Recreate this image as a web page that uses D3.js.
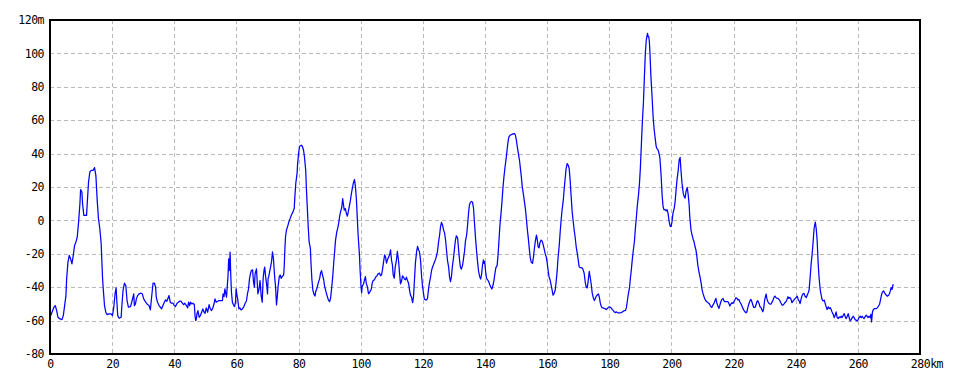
<!DOCTYPE html>
<html>
<head>
<meta charset="utf-8">
<script src="https://cdn.jsdelivr.net/npm/d3@7"></script>
<style>
  html, body { margin: 0; padding: 0; background: #ffffff; }
  svg { display: block; }
  .lbl { font-family: "DejaVu Sans Mono", "Liberation Mono", monospace; font-size: 11.5px; fill: #000; letter-spacing: -0.5px; }
</style>
</head>
<body>
<svg id="chart" width="960" height="384"></svg>
<script>
// ---- data ----
const xTickValues = [0, 20, 40, 60, 80, 100, 120, 140, 160, 180, 200, 220, 240, 260, 280];
const yTickValues = [-80, -60, -40, -20, 0, 20, 40, 60, 80, 100, 120];
const xUnit = "km";
const yUnit = "m";

// elevation profile: [distance km, elevation m]
const profile = [
[0,-58],[0.43,-56],[0.86,-54],[1.28,-52],[1.71,-51],[2.14,-54],[2.57,-58],[3.21,-59],[3.85,-59.4],[4.28,-57],[4.71,-51],[5.13,-45],[5.35,-35],[5.78,-25],[6.2,-21],[6.63,-23],[7.06,-26],[7.49,-21],[7.91,-15],[8.34,-13],[8.77,-10],[9.2,-1],[9.63,10],[9.84,18.4],[10.27,17],[10.48,10],[10.9,3],[11.76,3],[11.98,10],[12.4,23],[12.83,29],[13.26,30],[13.9,30],[14.33,31.6],[14.76,27],[15.19,12],[15.6,1],[16.04,-5],[16.47,-14],[16.9,-34],[17.1,-40],[17.54,-51],[17.97,-55],[18.4,-56.4],[19.04,-56],[19.68,-56],[20.1,-57],[20.53,-52],[20.96,-43.6],[21.28,-40.4],[21.5,-48],[21.8,-57],[22.25,-58.6],[22.9,-58],[23.1,-52],[23.5,-42],[23.96,-37.6],[24.4,-39],[24.8,-48],[25.24,-52],[25.9,-51.6],[26.3,-49],[26.7,-46],[26.95,-44],[27.16,-51],[27.5,-50],[27.8,-47],[28.2,-45],[28.66,-44],[29.3,-43.6],[29.7,-44],[30.16,-47],[30.8,-49],[31.4,-50.4],[31.87,-51],[32.3,-53.6],[32.7,-46],[33.16,-37.6],[33.6,-37.6],[34.0,-40],[34.2,-46],
[34.6,-49],[35.1,-51],[35.5,-52],[35.9,-53],[36.35,-51],[36.8,-49],[37.2,-47.6],[37.6,-48.4],[38.1,-46],[38.3,-45],[38.7,-49],[39.1,-49.6],[39.6,-49.6],[40,-51],[40.4,-51.6],[40.9,-49.6],[41.3,-49],[41.7,-48.4],[42.15,-48.4],[42.6,-49.6],[43.0,-50.4],[43.4,-49.6],[43.9,-51],[44.3,-52.4],[44.6,-49],[44.95,-51],[45.2,-49],[45.6,-50],[46.0,-49.6],[46.45,-50.4],[46.7,-57.6],[46.9,-60],[47.1,-59],[47.3,-56],[47.6,-54],[48.0,-58],[48.4,-57],[48.8,-55],[49.2,-53],[49.6,-55],[49.9,-55.6],[50.3,-52.4],[50.75,-55],[51.2,-50.4],[51.6,-53],[52.0,-54],[52.5,-52],[52.9,-49],[53.1,-47],[53.5,-49],[54.0,-48.4],[54.4,-48],[55.1,-48],[55.5,-48],[55.7,-44],[56.0,-45.6],[56.3,-41],[56.6,-44],[56.8,-46],[57.0,-41],[57.3,-33],[57.5,-23],[57.7,-30],[57.96,-19],[58.2,-34],[58.4,-43],[58.7,-49],[59.0,-50.4],[59.4,-51.6],[59.7,-49],[59.9,-41],[60.2,-45],[60.4,-47],[60.8,-53],[61.1,-52.4],[61.5,-53.6],[61.9,-53],[62.4,-51.6],[62.8,-49.6],[63.2,-48.4],[63.55,-44],[63.9,-41],[64.2,-35],[64.5,-32],[64.8,-30],[65.2,-29.6],[65.5,-37],[65.8,-40],[66.0,-32],[66.45,-29],[66.7,-37],[66.9,-44],[67.3,-41],[67.6,-36],[67.96,-45],[68.3,-49],
[68.6,-34.7],[68.9,-29.7],[69.1,-28],[69.4,-33.7],[69.8,-39.7],[70.0,-44],[70.2,-34.7],[70.4,-33.7],[70.9,-28.7],[71.3,-24.7],[71.6,-18.8],[71.9,-22.7],[72.3,-33.7],[72.6,-39.7],[72.9,-50.6],[73.2,-44.7],[73.4,-39.7],[73.8,-33.7],[74.1,-32.7],[74.4,-34.7],[74.7,-33.7],[75.2,-32.7],[75.4,-26.7],[75.6,-16.8],[75.8,-9.8],[76.1,-5.8],[76.6,-2.8],[76.9,-0.8],[77.3,1.2],[77.7,3.2],[78.2,5.1],[78.6,7.1],[78.8,14.1],[79.1,22.1],[79.5,28],[79.7,34],[80.0,40],[80.3,44.4],[80.9,45],[81.2,44.4],[81.6,42],[81.9,38],[82.3,30],[82.5,20],[82.8,8.1],[83.1,-3.8],[83.4,-12.8],[83.8,-16.8],[84.0,-25.7],[84.3,-35.7],[84.6,-41.7],[84.9,-44],[85.3,-45.3],[85.5,-42.7],[85.9,-40.7],[86.3,-37.7],[86.8,-34.7],[87.1,-31.3],[87.4,-30.1],[87.7,-32.7],[88.1,-35.7],[88.4,-39.7],[88.7,-41.7],[89.1,-44.7],[89.6,-47.6],[90.0,-48.6],[90.3,-46.6],[90.6,-41.3],[91.0,-33.7],[91.3,-25.7],[91.6,-18.8],[91.9,-11.8],[92.3,-6.8],[92.6,-4.8],[92.9,-1.8],[93.2,2.2],[93.5,5.1],[93.9,7.7],[94.2,13.1],[94.4,10.1],[94.7,6.1],[95.05,7.1],[95.4,4.1],[95.7,2.5],[96.0,5.1],[96.3,8.1],[96.7,12.1],[97.0,16.1],[97.3,19.1],[97.6,22.1],[98.0,24.5],[98.3,20.1],[98.6,13.1],[98.9,1.2],[99.2,-9.8],[99.6,-20.8],[99.8,-29.7],[100.1,-39.7],[100.3,-43.3],[100.5,-39.3],[100.9,-38.1],[101.2,-35.7],[101.5,-33.7],[101.8,-37.7],[102.15,-39.7],[102.5,-43.9],[102.8,-43.3],
[103.4,-41.2],[103.7,-37.6],[104.0,-36],[104.4,-35.6],[104.8,-34],[105.2,-33.2],[105.6,-32],[106.05,-31.6],[106.4,-33.2],[106.7,-32.6],[107.0,-29.6],[107.3,-25.6],[107.7,-20.6],[108.0,-22],[108.3,-25.6],[108.6,-23.6],[108.95,-22],[109.3,-20.6],[109.6,-17.6],[109.9,-23.6],[110.2,-26.6],[110.45,-32.6],[110.8,-34.6],[111.1,-27.8],[111.4,-25.2],[111.8,-18.6],[112.2,-24.6],[112.5,-31.6],[112.8,-38],[113.1,-36.6],[113.45,-33.2],[113.8,-34],[114.1,-35.2],[114.4,-35.6],[114.7,-34],[115.06,-36],[115.4,-37.6],[115.7,-41.6],[116.0,-44.6],[116.35,-46],[116.7,-49.2],[117.0,-45.6],[117.3,-35.6],[117.6,-25.6],[118.0,-18.6],[118.3,-15.6],[118.6,-17.6],[118.9,-18.6],[119.25,-23.6],[119.6,-33.6],[119.9,-39.6],[120.2,-43.6],[120.5,-47.2],[120.85,-47.6],[121.2,-47.6],[121.5,-46.6],[121.8,-41.6],[122.1,-37.6],[122.5,-33.6],[122.8,-30],[123.1,-28],[123.4,-26.6],[123.8,-24.6],[124.1,-23.2],[124.4,-21.2],[124.7,-18.6],[125.04,-13.2],[125.4,-8.6],[125.7,-3.6],[126.0,-1.2],[126.3,-2.6],[126.65,-5.6],[127.0,-7.6],[127.3,-11.6],[127.6,-17.6],[127.9,-23.6],[128.3,-28],[128.6,-34],[128.9,-36.6],[129.2,-33.6],[129.5,-27.6],[129.9,-22],[130.2,-16.6],[130.5,-11.6],[130.8,-9.2],[131.2,-10.6],[131.5,-17.6],[131.8,-23.6],[132.1,-28],[132.4,-29.2],[132.8,-26.6],[133.1,-22.6],[133.4,-18.6],[133.7,-12.6],[134.1,-8.6],[134.4,-2.6],[134.7,4.4],[135.0,9.4],[135.3,10.8],[135.7,11.4],[136.0,10.8],[136.3,7.4],
[136.7,-3.8],[137.0,-11.8],[137.3,-18.8],[137.6,-24.7],[137.95,-30.7],[138.3,-33.7],[138.6,-35.1],[138.9,-32.3],[139.2,-26.7],[139.5,-23.7],[139.7,-25.7],[139.9,-24.7],[140.2,-30.7],[140.5,-34.7],[140.9,-35.7],[141.2,-36.7],[141.5,-38.3],[141.8,-39.7],[142.2,-41.1],[142.6,-38.7],[142.9,-35.7],[143.2,-31.7],[143.5,-28.3],[143.9,-27.1],[144.2,-20.8],[144.5,-11.8],[144.8,-3],[145.2,5.1],[145.5,12.1],[145.8,20.1],[146.1,26.1],[146.45,32],[146.8,37],[147.1,42],[147.4,47],[147.7,50],[148.1,51],[148.5,51.4],[149.0,51.8],[149.5,52],[149.8,51],[150.1,48],[150.4,44],[150.75,40],[151.1,36],[151.4,31],[151.7,26.1],[152.0,20.1],[152.4,15.1],[152.7,11.1],[153.0,7.1],[153.3,1.2],[153.65,-5.8],[154.0,-11.8],[154.3,-17.8],[154.6,-22.7],[154.9,-25.1],[155.3,-25.7],[155.6,-21.8],[155.9,-16.8],[156.2,-12.4],[156.56,-8.8],[156.8,-11.2],[157.1,-15.8],[157.4,-16.4],[157.7,-13.2],[158.06,-11.8],[158.4,-12.4],[158.7,-14.4],[159.0,-16.8],[159.35,-19.8],[159.7,-21.8],[160.0,-25.1],[160.3,-29.7],[160.6,-33.7],[160.96,-35.7],[161.3,-38.7],[161.6,-41.7],[161.9,-44.7],[162.25,-43.7],[162.6,-41.7],[162.9,-36.7],[163.2,-30.7],[163.5,-22.7],[163.9,-14.8],[164.2,-6.8],[164.5,0.2],[164.8,6.1],[165.2,12.1],[165.5,19.1],[165.8,25.1],[166.1,31],[166.45,34],[166.8,33],[167.1,31],[167.4,24.1],[167.7,15.1],[168.06,5.1],[168.4,-0.8],[168.7,-5.8],[169.0,-9.8],[169.35,-15.8],[169.7,-19.8],[170.0,-23.7],[170.3,-27.7],[170.6,-28.3],[170.96,-28.3],
[171.4,-28.7],[171.9,-31.5],[172.3,-37.5],[172.6,-40],[172.9,-40.4],[173.2,-36.5],[173.55,-30.5],[173.9,-34.5],[174.2,-38.4],[174.5,-43.4],[174.8,-46],[175.2,-48],[175.5,-46.8],[175.8,-45.4],[176.1,-44.7],[176.5,-44],[176.8,-46],[177.1,-49.4],[177.4,-51.4],[177.7,-52.4],[178.1,-52.4],[178.4,-52.8],[178.7,-52.8],[179.0,-53.4],[179.4,-52.8],[179.7,-52],[180.0,-51.8],[180.3,-52],[180.6,-52.4],[181.0,-53.4],[181.3,-54],[181.6,-54.8],[181.9,-55.2],[182.3,-54.8],[182.6,-55.2],[182.9,-55.4],[183.2,-55.4],[183.55,-55.4],[183.9,-55.2],[184.2,-54.8],[184.5,-54.4],[184.8,-54],[185.2,-54],[185.5,-52.4],[185.8,-48.4],[186.1,-44.4],[186.5,-40.4],[186.8,-34.5],[187.1,-29.5],[187.4,-23.5],[187.7,-18.5],[188.1,-12.5],[188.4,-4.6],[188.7,1.4],[189.0,8.4],[189.4,15.3],[189.7,21.7],[190.0,31.3],[190.3,44.2],[190.6,57.2],[191.0,71.1],[191.3,86.1],[191.6,100],[191.9,108],[192.3,112],[192.5,110],[192.7,110],[192.9,107],[193.1,100],[193.4,86.1],[193.8,73.1],[194.1,62.2],[194.4,55.2],[194.7,50.2],[195.1,44.2],[195.4,42.8],[195.7,42.2],[196.0,40.2],[196.3,37.3],[196.7,26.3],[197.0,15.3],[197.3,8.4],[197.6,6.4],[198.0,6.4],[198.3,5.8],[198.6,6.4],[198.9,4.4],[199.25,-0.6],[199.6,-3.6],[199.9,-3.6],[200.2,-0.6],[200.5,4.4],[200.9,7.4],[201.2,11.4],[201.5,18.3],[201.8,24.3],[202.2,30.3],[202.5,36.3],[202.8,37.7],[203.1,29.3],[203.4,22.3],[203.8,16.3],[204.1,14.3],[204.4,13.3],[204.7,17.3],[205.1,19.7],[205.4,15.3],[205.7,9.4],[205.9,2.4],[206.3,-5.8],[206.65,-8.8],[207.0,-11.4],[207.3,-12.8],[207.6,-15.8],[207.9,-17.8],
[208.2,-21.8],[208.5,-26.8],[208.85,-30.8],[209.2,-33.8],[209.5,-36.8],[209.8,-40.8],[210.1,-43.4],[210.5,-45.7],[210.8,-47.3],[211.1,-48.1],[211.4,-48.7],[211.7,-49.1],[212.1,-49.7],[212.4,-50.7],[212.7,-51.7],[213.0,-52.1],[213.35,-50.7],[213.7,-49.7],[214.0,-48.1],[214.3,-46.7],[214.6,-49.3],[214.96,-51.3],[215.3,-52.7],[215.6,-50.7],[215.9,-48.7],[216.25,-47.3],[216.6,-46.7],[216.9,-48.1],[217.2,-48.7],[217.5,-48.7],[217.9,-48.7],[218.2,-48.7],[218.5,-49.7],[218.8,-51.3],[219.1,-50.1],[219.5,-49.3],[219.8,-49.7],[220.1,-48.7],[220.4,-47.7],[220.75,-46.3],[221.1,-46.7],[221.4,-47.7],[221.7,-47.3],[222.0,-48.7],[222.4,-50.1],[222.7,-51.3],[223.0,-52.7],[223.3,-53.7],[223.65,-54.7],[224.0,-55.3],[224.3,-54.7],[224.6,-52.1],[224.9,-50.1],[225.3,-48.1],[225.6,-47.3],[225.9,-48.7],[226.2,-50.7],[226.5,-52.1],[226.9,-52.1],[227.2,-50.7],[227.5,-48.7],[227.8,-48.1],[228.2,-49.7],[228.5,-51.7],[228.8,-52.1],[229.1,-53.3],[229.4,-54.7],[229.7,-52.7],[230.0,-47.7],[230.3,-45.3],[230.5,-44.1],[230.7,-46.7],[231.05,-48.7],[231.4,-49.7],[231.7,-50.1],[232.0,-50.1],[232.3,-49.3],[232.7,-47.7],[233.0,-46.1],[233.3,-45.3],[233.6,-46.1],[233.95,-46.7],[234.3,-46.7],[234.6,-47.3],[234.9,-48.1],[235.2,-49.3],[235.6,-50.7],[235.9,-50.7],[236.2,-50.1],[236.5,-49.3],[236.85,-48.7],[237.2,-47.3],[237.5,-45.7],[237.8,-46.7],[238.1,-46.1],[238.5,-47.3],[238.8,-49.3],
[239.2,-48.2],[239.5,-47.4],[239.8,-46.8],[240.1,-46.2],[240.5,-45.4],[240.8,-47.4],[241.1,-48.2],[241.4,-49.8],[241.76,-46.8],[242.1,-44.8],[242.4,-43.8],[242.7,-43.8],[243.0,-45.4],[243.4,-46.2],[243.7,-44.8],[244.0,-43.4],[244.3,-41.8],[244.65,-33.9],[244.97,-25.9],[245.3,-19.9],[245.6,-12.9],[245.9,-5],[246.3,-1],[246.6,-5],[246.9,-12],[247.2,-24.9],[247.5,-33.9],[247.9,-41.8],[248.2,-44.8],[248.5,-47.4],[248.8,-48.2],[249.2,-47.8],[249.5,-49.8],[249.8,-51.8],[250.1,-53.4],[250.45,-51.8],[250.8,-52.8],[251.1,-52.2],[251.4,-53.4],[251.7,-54.8],[252.06,-56.2],[252.4,-58.2],[252.7,-56.8],[253.0,-54.8],[253.35,-58.2],[253.7,-58.8],[254.0,-57.8],[254.3,-58.2],[254.6,-57.4],[254.95,-58.2],[255.3,-56.8],[255.6,-55.8],[255.9,-57.4],[256.2,-58.8],[256.6,-57.4],[256.9,-55.8],[257.2,-58.2],[257.5,-60.2],[257.85,-59.4],[258.2,-58.2],[258.5,-57.4],[258.8,-58.2],[259.1,-59.4],[259.5,-59.8],[259.8,-60.2],[260.1,-59.4],[260.4,-58.2],[260.75,-57.4],[261.1,-58.2],[261.4,-57.4],[261.7,-58.2],[262.0,-58.8],[262.4,-57.4],[262.7,-56.8],[263.0,-57.4],[263.3,-58.2],[263.6,-57.4],[264.0,-58.2],[264.2,-56.2],[264.4,-60.8],[264.7,-54.8],[265.0,-53.4],[265.4,-52.8],[265.7,-52.8],[266.0,-52.8],[266.3,-52.2],[266.6,-51.4],[267.0,-50.2],[267.3,-47.4],[267.6,-44.8],[267.9,-42.8],[268.3,-42.2],[268.6,-43.4],[268.9,-44.2],[269.2,-44.8],[269.5,-45.4],[269.9,-44.8],[270.2,-43.8],[270.5,-41.8],[270.7,-40.2],[271.0,-41.4],[271.2,-39.4],[271.4,-38.2]
];

// ---- layout ----
const plot = { left: 50, top: 20, right: 920, bottom: 354 };
const svg = d3.select("#chart");

const x = d3.scaleLinear().domain([0, 280]).range([plot.left, plot.right]);
const y = d3.scaleLinear().domain([-80, 120]).range([plot.bottom, plot.top]);

// background
svg.append("rect").attr("x", 0).attr("y", 0).attr("width", 960).attr("height", 384).attr("fill", "#fff");

// gridlines
const gridX = xTickValues.slice(1, -1);
const gridY = yTickValues.slice(1, -1);
const grid = svg.append("g").attr("shape-rendering", "crispEdges")
  .attr("stroke", "#b9b9b9").attr("stroke-width", 1).attr("stroke-dasharray", "4,3");
grid.selectAll("line.v").data(gridX).join("line").attr("class", "v")
  .attr("x1", d => Math.round(x(d)) + 0.5).attr("x2", d => Math.round(x(d)) + 0.5)
  .attr("y1", plot.top).attr("y2", plot.bottom);
grid.selectAll("line.h").data(gridY).join("line").attr("class", "h")
  .attr("y1", d => Math.round(y(d)) + 0.5).attr("y2", d => Math.round(y(d)) + 0.5)
  .attr("x1", plot.left).attr("x2", plot.right);

// profile line
const line = d3.line().x(d => x(d[0])).y(d => y(d[1]));
svg.append("path").datum(profile)
  .attr("d", line)
  .attr("fill", "none")
  .attr("stroke", "#0000ff")
  .attr("stroke-width", 1.25)
  .attr("stroke-linejoin", "round");

// frame
svg.append("rect")
  .attr("x", plot.left).attr("y", plot.top)
  .attr("width", plot.right - plot.left).attr("height", plot.bottom - plot.top)
  .attr("fill", "none").attr("stroke", "#000").attr("stroke-width", 2);

// y axis labels
const yAxis = d3.axisLeft(y).tickValues(yTickValues).tickSize(0).tickPadding(6)
  .tickFormat(d => d === 120 ? d + yUnit : String(d));
const gy = svg.append("g").attr("transform", `translate(${plot.left},0)`).call(yAxis);
gy.select(".domain").remove();
gy.selectAll("text").attr("class", "lbl").attr("font-family", null).attr("font-size", null);

// x axis labels
const xAxis = d3.axisBottom(x).tickValues(xTickValues).tickSize(0).tickPadding(6)
  .tickFormat(d => d === 280 ? d + xUnit : String(d));
const gx = svg.append("g").attr("transform", `translate(0,${plot.bottom})`).call(xAxis);
gx.select(".domain").remove();
gx.selectAll("text").attr("class", "lbl").attr("font-family", null).attr("font-size", null);
// last label: number centred on its tick, unit trailing
gx.selectAll(".tick").filter(d => d === 280).select("text").each(function(d) {
  const t = d3.select(this);
  const numW = this.getSubStringLength(0, String(d).length);
  t.attr("text-anchor", "start").attr("x", -numW / 2);
});
</script>
</body>
</html>
